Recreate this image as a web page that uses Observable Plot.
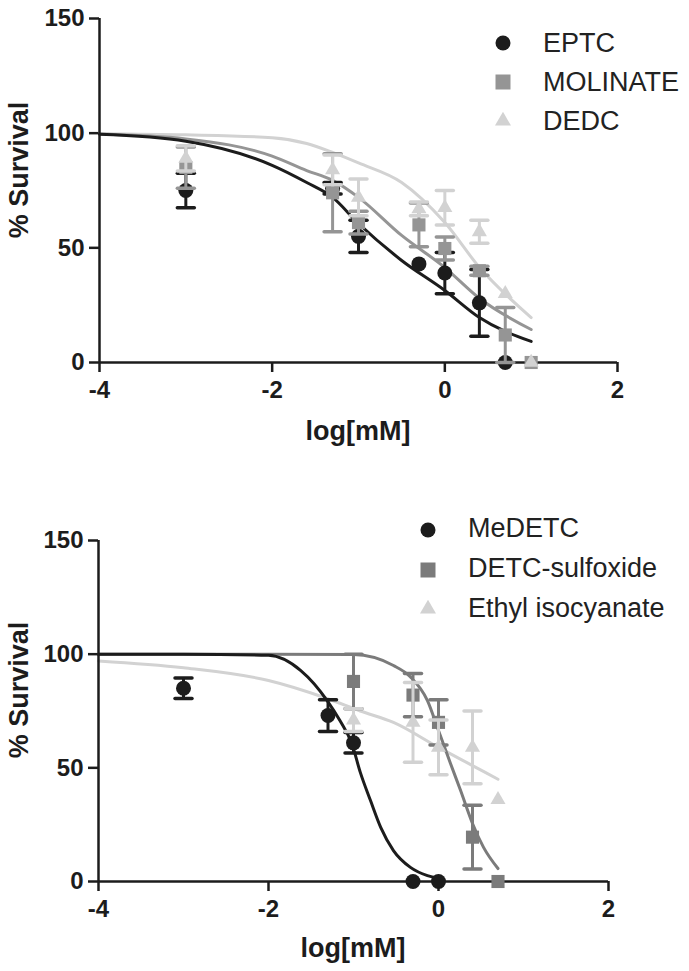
<!DOCTYPE html>
<html><head><meta charset="utf-8">
<script src="https://cdn.jsdelivr.net/npm/d3@7"></script>
<script src="https://cdn.jsdelivr.net/npm/@observablehq/plot@0.6"></script>
<style>
body{margin:0;background:#fff;}
#wrap{position:relative;width:689px;height:971px;font-family:"Liberation Sans",Arial,sans-serif;}
.panel{position:absolute;left:0;}
#legend{position:absolute;left:0;top:0;pointer-events:none;}
svg [aria-label*="axis"] *{stroke-width:2.5px;}
</style></head>
<body><div id="wrap"></div>
<script>
// ---------- shared ----------
const xTicks = [-4, -2, 0, 2];
const yTicks = [0, 50, 100, 150];
const xLabel = "log[mM]";
const yLabel = "% Survival";

// ---------- top panel: points ----------
const topNames = ["EPTC", "MOLINATE", "DEDC"];
const topDoses = [-3, -1.3, -1, -0.3, 0, 0.4, 0.7, 1];
const eptcMean = [75, 76, 55, 43, 39, 26, 0, null];
const eptcSem  = [7.5, 2.5, 7, 0, 9, 14.5, 0, null];
const molMean  = [85, 74, 61, 60, 49.7, 40, 12, 0];
const molSem   = [9, 17, 5, 9.5, 5, 2, 12, 0];
const dedcMean = [89, 84, 72, 67, 67.5, 57, 30, 0];
const dedcSem  = [5.5, 6.5, 8, 3, 7.5, 5, 0, 0];

// ---------- top panel: fitted curves ----------
const topCurveX = [-4, -3, -2, -1.6, -1.3, -1, -0.5, 0, 0.4, 1];
const eptcCurveY = [99.5, 96.5, 86, 78.5, 72, 60.6, 44.5, 31.4, 19.6, 9.2];
const molCurveY  = [99.6, 97.5, 90, 83.7, 79.4, 72, 55.4, 41.4, 28, 14.4];
const dedcCurveY = [99.8, 99.3, 98, 95.5, 91.6, 87, 78.5, 61, 41.5, 19.6];

// ---------- bottom panel: points ----------
const botNames = ["MeDETC", "DETC-sulfoxide", "Ethyl isocyanate"];
const botDoses = [-3, -1.3, -1, -0.3, 0, 0.4, 0.7];
const medetcMean = [85, 73, 61, 0, 0, null, null];
const medetcSem  = [4.5, 7, 4.5, 0, 0, null, null];
const sulfMean   = [null, null, 88, 82, 70, 19.5, 0];
const sulfSem    = [null, null, 12, 9.5, 10, 14, 0];
const ethylMean  = [null, null, 71, 70, 59, 59, 36];
const ethylSem   = [null, null, 5, 17.5, 12, 16, 0];

// ---------- bottom panel: fitted curves ----------
const medetcCurveX = [-4, -3, -2, -1.62, -1.31, -1.16, -1.02, -0.92, -0.8, -0.68, -0.53, -0.33, -0.13, 0];
const medetcCurveY = [100, 100, 99.5, 92.8, 79.6, 70.8, 60.7, 48, 35.6, 23.8, 13.6, 6.2, 2.6, 1.5];
const sulfCurveX = [-4, -2, -1, -0.53, -0.33, -0.13, 0, 0.14, 0.26, 0.4, 0.53, 0.7];
const sulfCurveY = [100, 100, 99.8, 95, 90, 79.6, 66.4, 52, 40, 25.5, 15, 5.7];
const ethylCurveX = [-4, -3, -2, -1.31, -0.92, -0.53, 0, 0.4, 0.7];
const ethylCurveY = [97, 94, 88.4, 80.5, 75, 70, 59, 51, 45];

// ---------- colours ----------
const cBlack = "#1c1c1c";
const cGrayTop = "#959595";
const cGrayBot = "#7b7b7b";
const cLight = "#d2d2d2";

function pts(xs, ms, es) {
  return xs.map((x, i) => ({x, y: ms[i], e: es[i]})).filter(d => d.y != null);
}
function crv(xs, ys) { return xs.map((x, i) => ({x, y: ys[i]})); }

const cap = {draw(ctx, size) { const r = Math.sqrt(size / Math.PI); ctx.moveTo(-r, 0); ctx.lineTo(r, 0); }};

function makePanel(cfg) {
  const marks = [];
  cfg.curves.forEach(c => marks.push(Plot.line(c.data, {x: "x", y: "y", stroke: c.color, strokeWidth: 3, curve: "monotone-x"})));
  marks.push(Plot.ruleY([0], {stroke: cBlack, strokeWidth: 2.5}));
  marks.push(Plot.ruleX([-4], {stroke: cBlack, strokeWidth: 2.5}));
  cfg.series.forEach(s => {
    const we = s.data.filter(d => d.e > 0);
    marks.push(Plot.ruleX(we, {x: "x", y1: d => d.y - d.e, y2: d => d.y + d.e, stroke: s.color, strokeWidth: 3}));
    marks.push(Plot.dot(we, {x: "x", y: d => d.y + d.e, symbol: cap, r: 8.5, stroke: s.color, strokeWidth: 3.5, fill: "none", strokeLinecap: "round"}));
    marks.push(Plot.dot(we, {x: "x", y: d => d.y - d.e, symbol: cap, r: 8.5, stroke: s.color, strokeWidth: 3.5, fill: "none", strokeLinecap: "round"}));
    marks.push(Plot.dot(s.data, {x: "x", y: "y", symbol: s.symbol, r: s.r, fill: s.color, stroke: "none"}));
  });
  const svg = Plot.plot({
    width: 689, height: cfg.height,
    marginLeft: cfg.mL, marginRight: cfg.mR, marginTop: cfg.mT, marginBottom: cfg.mB,
    style: {fontFamily: '"Liberation Sans", Arial, sans-serif', fontSize: "24px", fontWeight: "bold", color: cBlack, background: "white", overflow: "visible"},
    x: {domain: [-4, 2], ticks: xTicks, tickSize: 10, tickPadding: 8, label: null, tickFormat: d => String(d)},
    y: {domain: [0, 150], ticks: yTicks, tickSize: 10, tickPadding: 5, label: null},
    marks
  });
  const s = d3.select(svg);
  s.append("text").attr("x", cfg.xLabelX).attr("y", cfg.xLabelY).attr("text-anchor", "middle")
    .attr("font-size", 27).attr("font-weight", "bold").attr("fill", cBlack).text(xLabel);
  s.append("text").attr("transform", `translate(${cfg.yLabelX},${cfg.yLabelY}) rotate(-90)`).attr("text-anchor", "middle")
    .attr("font-size", 27).attr("font-weight", "bold").attr("fill", cBlack).text(yLabel);
  const div = document.createElement("div");
  div.className = "panel";
  div.style.top = cfg.top + "px";
  div.appendChild(svg);
  return div;
}

const wrap = document.getElementById("wrap");

const topSeries = [
  {data: pts(topDoses, eptcMean, eptcSem), color: cBlack, symbol: "circle", r: 7.5},
  {data: pts(topDoses, molMean, molSem), color: cGrayTop, symbol: "square", r: 7.4},
  {data: pts(topDoses, dedcMean, dedcSem), color: cLight, symbol: "triangle", r: 5.6}
];
const topCurves = [
  {data: crv(topCurveX, dedcCurveY), color: cLight},
  {data: crv(topCurveX, molCurveY), color: cGrayTop},
  {data: crv(topCurveX, eptcCurveY), color: cBlack}
];
wrap.appendChild(makePanel({top: 0, height: 470, mL: 99, mR: 72, mT: 18, mB: 108,
  series: topSeries, curves: topCurves, xLabelX: 358, xLabelY: 440, yLabelX: 28, yLabelY: 170}));

const botSeries = [
  {data: pts(botDoses, medetcMean, medetcSem), color: cBlack, symbol: "circle", r: 7.5},
  {data: pts(botDoses, sulfMean, sulfSem), color: cGrayBot, symbol: "square", r: 7.4},
  {data: pts(botDoses, ethylMean, ethylSem), color: cLight, symbol: "triangle", r: 5.6}
];
const botCurves = [
  {data: crv(ethylCurveX, ethylCurveY), color: cLight},
  {data: crv(sulfCurveX, sulfCurveY), color: cGrayBot},
  {data: crv(medetcCurveX, medetcCurveY), color: cBlack}
];
wrap.appendChild(makePanel({top: 500, height: 471, mL: 98, mR: 81, mT: 40, mB: 90,
  series: botSeries, curves: botCurves, xLabelX: 353, xLabelY: 457, yLabelX: 28, yLabelY: 190}));

// ---------- legends ----------
const leg = d3.select(wrap).append("svg").attr("id", "legend").attr("width", 689).attr("height", 971);
const legSym = [d3.symbolCircle, d3.symbolSquare, d3.symbolTriangle];
const legSize = [177, 225, 111];
function legend(names, colors, sx, tx, cys, bys) {
  names.forEach((n, i) => {
    leg.append("path").attr("transform", `translate(${sx},${cys[i]})`)
      .attr("d", d3.symbol(legSym[i], legSize[i])()).attr("fill", colors[i]);
    leg.append("text").attr("x", tx).attr("y", bys[i]).attr("font-size", 27)
      .attr("font-family", '"Liberation Sans", Arial, sans-serif').attr("fill", "#222").text(n);
  });
}
legend(topNames, [cBlack, cGrayTop, cLight], 503, 543, [43, 82, 121], [52, 91, 130]);
legend(botNames, [cBlack, cGrayBot, cLight], 428, 468, [530, 570, 609], [537, 577, 617]);
</script></body></html>
